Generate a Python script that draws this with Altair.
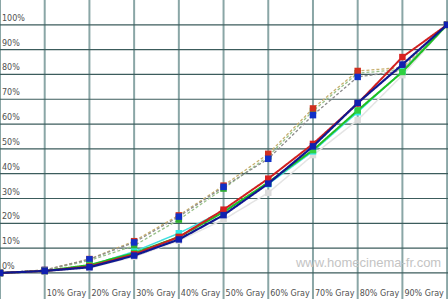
import altair as alt
import pandas as pd

gray = [0, 10, 20, 30, 40, 50, 60, 70, 80, 90, 100]

# solid series
red_solid = [0, 0.8, 2.6, 7.5, 14.5, 25.5, 38.0, 52.0, 68.3, 87.0, 100]
blue_solid = [0, 0.8, 2.3, 7.0, 13.5, 23.3, 36.0, 51.0, 68.5, 84.0, 100]
green_solid = [0, 0.8, 3.2, 8.0, 14.5, 24.5, 36.5, 49.5, 65.5, 81.0, 100]
cyan_pts = [0, 0.8, 3.0, 8.6, 16.0, 25.0, 35.8, 49.0, 64.8, 81.3, 100]
light_pts = [0, 0.6, 2.0, 6.5, 13.0, 21.5, 32.3, 47.5, 61.6, 79.7, 100]

# dotted series
red_dot = [0, 1.2, 5.6, 12.8, 23.2, 35.2, 48.0, 66.3, 81.4, 82.8, 100]
green_dot = [0, 1.1, 5.0, 11.0, 21.5, 34.0, 47.0, 65.3, 80.5, 82.0, 100]
blue_dot = [0, 1.2, 5.5, 12.3, 22.7, 34.7, 46.0, 63.6, 79.0, 81.5, 100]

y_ticks = [0, 10, 20, 30, 40, 50, 60, 70, 80, 90, 100]
y_labels = ["0%", "10%", "20%", "30%", "40%", "50%", "60%", "70%", "80%", "90%", "100%"]
x_ticks = [10, 20, 30, 40, 50, 60, 70, 80, 90]
x_labels = ["10% Gray", "20% Gray", "30% Gray", "40% Gray", "50% Gray",
            "60% Gray", "70% Gray", "80% Gray", "90% Gray"]
watermark = "www.homecinema-fr.com"

xs = alt.Scale(domain=[0, 100.2], nice=False, zero=False)
ys = alt.Scale(domain=[-10.5, 110], nice=False, zero=False)

# series: (values, line colour, marker colour, dashed, line width)
series = [
    (green_dot, "#98c088", "#30b030", True, 1.3),
    (red_dot, "#c8b070", "#d03020", True, 1.3),
    (blue_dot, "#8c8c8c", "#1030c8", True, 1.3),
    (light_pts, "#e4e4e4", "#dcdcdc", False, 1.5),
    (cyan_pts, "#40e0e0", "#30e8e8", False, 1.5),
    (green_solid, "#20c020", "#30d040", False, 2),
    (red_solid, "#d02020", "#d82020", False, 2),
    (blue_solid, "#101890", "#1020b0", False, 2.2),
]

X = alt.X("x:Q", scale=xs, axis=None)
Y = alt.Y("y:Q", scale=ys, axis=None)

vgrid = alt.Chart(pd.DataFrame({"x": gray})).mark_rule(
    color="#8aa6a6", strokeWidth=2).encode(x=X)
hgrid = alt.Chart(pd.DataFrame({"y": y_ticks})).mark_rule(
    color="#3c5c5c", strokeWidth=1.2).encode(y=Y)

layers = []
for vals, lc, mc, dashed, w in series:
    df = pd.DataFrame({"x": gray, "y": vals})
    line = alt.Chart(df).mark_line(
        color=lc, strokeWidth=w, strokeDash=[3, 2] if dashed else [1, 0]
    ).encode(x=X, y=Y)
    pts = alt.Chart(df).mark_square(size=42, color=mc, opacity=1).encode(x=X, y=Y)
    layers.append(line)
    layers.append(pts)

ylab_df = pd.DataFrame({"x": [0] * len(y_ticks), "y": y_ticks, "t": y_labels})
ylab = alt.Chart(ylab_df).mark_text(
    align="left", baseline="bottom", dx=2, dy=-2, fontSize=8, font="DejaVu Sans", color="#505050"
).encode(x=X, y=Y, text="t:N")

xlab_df = pd.DataFrame({"x": x_ticks, "y": [-8.5] * len(x_ticks), "t": x_labels})
xlab = alt.Chart(xlab_df).mark_text(
    align="left", baseline="middle", dx=2, fontSize=8, font="DejaVu Sans", color="#505050"
).encode(x=X, y=Y, text="t:N")

wm_df = pd.DataFrame({"x": [66.2], "y": [4.0], "t": [watermark]})
wm = alt.Chart(wm_df).mark_text(
    align="left", baseline="middle", fontSize=13, font="Liberation Sans", color="#c4c4c4"
).encode(x=X, y=Y, text="t:N")

chart = alt.layer(vgrid, hgrid, wm, *layers, ylab, xlab).properties(
    width=448, height=299, autosize=alt.AutoSizeParams(type="none"), padding=0,
    background="white"
).configure_view(strokeWidth=0, strokeOpacity=0)

chart.save("out.html", embed_options={"renderer": "svg", "actions": False})
